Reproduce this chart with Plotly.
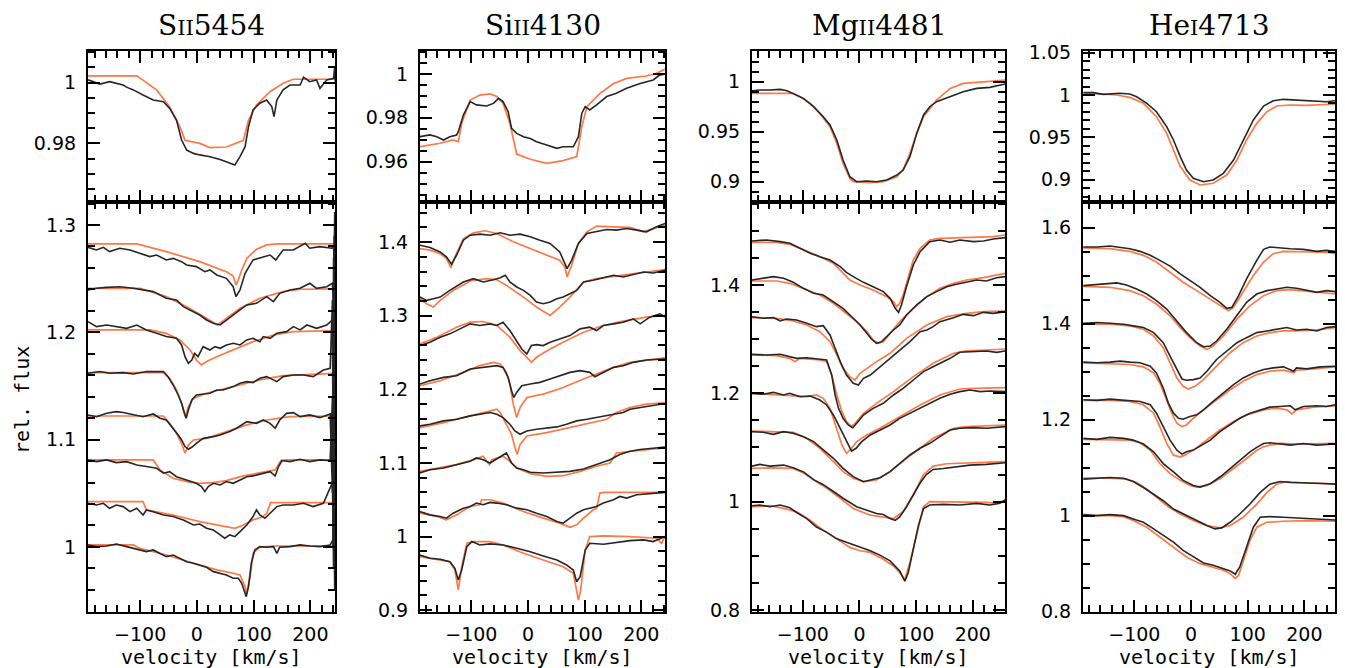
import plotly.graph_objects as go

# ---------------- data (velocity km/s, relative flux) ----------------
# Column 1: S II 5454
SII_TOP_MOD_V = [-192,-106,-71,-48,-30,-21,5,23,52,82,91,105,129,152,170,244]
SII_TOP_MOD_F = [1.0022,1.0022,0.9976,0.992,0.9855,0.981,0.980,0.9786,0.9788,0.981,0.9877,0.9926,0.997,0.9998,1.0011,1.0011]
SII_TOP_OBS_V = [-192,-171,-154,-130,-124,-112,-95,-77,-59,-48,-36,-27,-18,-6,5,23,41,58,67,76,85,91,99,111,123,132,136,141,152,164,182,188,199,211,217,229,241,243,244]
SII_TOP_OBS_F = [1.0009,0.9995,1.0003,0.9992,0.9985,0.9976,0.9959,0.9943,0.9937,0.9915,0.9877,0.9811,0.9778,0.9767,0.9762,0.9756,0.9747,0.9734,0.9729,0.9756,0.9789,0.9855,0.991,0.9932,0.9943,0.9921,0.9888,0.9943,0.9976,0.9992,0.9992,1.0018,1.0003,1.0009,0.9981,1.0009,1.0014,1.0053,1.0]

SII_BOT_MOD_V = [
    [-192,-106,-54,5,52,64,69,73,79,88,105,123,141,244],
    [-192,-100,-54,-18,17,36,52,76,111,152,182,244],
    [-192,-83,-54,-30,-12,-1,8,17,35,64,99,135,170,244],
    [-192,-59,-48,-36,-27,-20,-15,-6,17,64,111,152,211,244],
    [-192,-59,-48,-36,-27,-21,-15,-6,17,52,88,123,164,244],
    [-192,-77,-65,-42,-18,5,29,52,82,123,138,148,158,244],
    [-192,-95,-89,-42,5,52,67,82,99,117,123,130,244],
    [-192,-112,-101,-54,-6,35,64,76,85,87,94,99,111,135,244],
]
SII_BOT_MOD_F = [
    [1.2823,1.2823,1.2752,1.2658,1.2565,1.2525,1.2441,1.2488,1.2581,1.2689,1.2773,1.2814,1.2823,1.2823],
    [1.241,1.241,1.2332,1.2239,1.213,1.2068,1.213,1.2224,1.2317,1.2379,1.2401,1.2404],
    [1.2022,1.2022,1.199,1.1929,1.1835,1.1742,1.1696,1.1727,1.1773,1.1835,1.1913,1.1975,1.2006,1.2016],
    [1.1624,1.1624,1.1571,1.1463,1.1339,1.1214,1.1307,1.1385,1.1432,1.1494,1.1556,1.1596,1.1612,1.1618],
    [1.122,1.122,1.1152,1.1059,1.0966,1.0873,1.095,1.0997,1.1012,1.1075,1.1137,1.1183,1.1214,1.122],
    [1.0811,1.0811,1.0718,1.064,1.0609,1.0593,1.06,1.0618,1.0662,1.0702,1.0718,1.0805,1.0811,1.0811],
    [1.0422,1.0422,1.0345,1.0298,1.0236,1.019,1.0174,1.0205,1.0252,1.0283,1.0314,1.0413,1.0413],
    [1.0019,1.0019,0.9988,0.9925,0.9848,0.9786,0.9755,0.9739,0.963,0.9562,0.9724,0.9941,1.0,1.0009,1.0009],
]
SII_BOT_OBS_V = [
    [-192,-177,-165,-154,-136,-118,-101,-83,-71,-54,-42,-27,-18,-1,14,23,35,52,64,69,76,85,99,117,129,139,152,170,191,199,217,238,241,242,243,244],
    [-192,-177,-159,-136,-112,-95,-77,-54,-36,-24,-12,5,17,29,41,49,58,64,76,88,105,123,135,146,164,182,199,211,229,239,241,242,243,244],
    [-192,-177,-159,-142,-124,-106,-89,-71,-54,-36,-27,-21,-15,-9,-4,2,11,23,32,41,52,64,76,88,99,111,117,129,141,158,170,182,194,211,229,239,240,241,242,243,244],
    [-192,-171,-154,-130,-112,-89,-71,-59,-51,-42,-33,-27,-22,-19,-15,-9,-1,11,23,35,46,64,76,88,99,111,123,141,152,170,188,205,223,235,239,240,241,242,243,244],
    [-192,-177,-159,-142,-130,-112,-95,-77,-65,-54,-42,-33,-27,-21,-15,-9,-1,11,29,41,58,70,88,105,117,129,138,146,158,170,182,199,217,235,239,240,241,242,243,244],
    [-192,-177,-159,-142,-124,-106,-89,-71,-59,-48,-36,-18,-1,8,14,20,29,41,52,64,76,88,99,117,129,138,144,150,164,182,199,217,235,239,240,241,242,243,244],
    [-192,-177,-165,-154,-142,-130,-118,-106,-95,-89,-77,-59,-42,-24,-6,5,17,29,41,49,58,67,76,88,99,105,111,120,129,141,152,170,188,205,223,239,241,242,243,244],
    [-192,-177,-159,-142,-124,-112,-101,-89,-77,-65,-54,-42,-30,-18,-6,5,17,29,41,52,64,73,79,84,87,91,96,102,111,123,135,141,146,164,182,199,217,235,240,242,243,244],
]
SII_BOT_OBS_F = [
    [1.2792,1.2767,1.2792,1.2752,1.2783,1.2767,1.2736,1.2705,1.272,1.2674,1.2689,1.2658,1.2627,1.2612,1.2565,1.2581,1.2534,1.2503,1.2425,1.2332,1.2394,1.255,1.2674,1.2705,1.272,1.2674,1.2767,1.2767,1.2829,1.2783,1.2798,1.2783,1.2800,1.2650,1.3120,1.2700],
    [1.2394,1.241,1.2419,1.2425,1.241,1.2394,1.2379,1.2317,1.2301,1.2239,1.2208,1.2161,1.2115,1.2084,1.2068,1.2099,1.213,1.2161,1.2208,1.2255,1.227,1.2332,1.2286,1.2363,1.2394,1.241,1.2457,1.241,1.2425,1.2457,1.2200,1.2900,1.1900,1.2600],
    [1.2099,1.2053,1.2068,1.2053,1.2037,1.2068,1.2022,1.1991,1.196,1.1944,1.1882,1.1773,1.1711,1.1742,1.1804,1.1773,1.1866,1.1835,1.1866,1.1851,1.1882,1.1898,1.1882,1.1929,1.1944,1.1913,1.196,1.1944,1.1991,1.2006,1.2053,1.2022,1.2068,1.2037,1.2068,1.2115,1.1500,1.2700,1.1200,1.2500,1.1400],
    [1.1618,1.1634,1.1618,1.1624,1.1612,1.1634,1.1634,1.1634,1.1587,1.1509,1.1416,1.1339,1.1245,1.1199,1.1276,1.137,1.1416,1.1425,1.1432,1.1463,1.1463,1.1494,1.1525,1.154,1.1531,1.1571,1.1587,1.154,1.1587,1.1602,1.1602,1.1587,1.1649,1.1665,1.2300,1.0800,1.2100,1.0900,1.2000,1.1200],
    [1.123,1.1214,1.1245,1.1261,1.1252,1.123,1.1214,1.1239,1.1199,1.1183,1.1106,1.1043,1.0997,1.0935,1.091,1.0929,1.0966,1.1012,1.1028,1.1043,1.1075,1.1106,1.1168,1.1152,1.1183,1.1152,1.1106,1.1183,1.1245,1.1252,1.1214,1.123,1.1205,1.1239,1.0500,1.1800,1.0400,1.1600,1.0600,1.1300],
    [1.0811,1.0795,1.0811,1.0786,1.0795,1.0764,1.0749,1.0733,1.0687,1.0702,1.0655,1.0624,1.0593,1.0562,1.0516,1.0562,1.0593,1.0578,1.0609,1.0593,1.0624,1.0655,1.0662,1.0687,1.0702,1.0662,1.0749,1.0805,1.0795,1.0817,1.0795,1.0811,1.0805,1.1400,1.0000,1.1300,1.0100,1.1100,1.0400],
    [1.0407,1.0391,1.0407,1.036,1.0391,1.0376,1.0329,1.036,1.0298,1.0345,1.0329,1.0298,1.0283,1.0252,1.0205,1.0214,1.0174,1.0158,1.0112,1.0081,1.0112,1.0096,1.0143,1.0205,1.0283,1.0345,1.0298,1.0267,1.0314,1.0376,1.0391,1.0391,1.0407,1.0376,1.0407,1.0600,0.9800,1.0700,0.9900,1.0400],
    [1.0019,1.0003,1.0009,1.0028,1.0003,0.9988,0.9972,0.9957,0.9972,0.9941,0.991,0.9925,0.9894,0.9863,0.9848,0.9832,0.981,0.977,0.9755,0.9739,0.9708,0.9708,0.9661,0.9568,0.9537,0.963,0.9848,0.9972,1.0003,0.9997,1.0003,0.9941,0.9997,1.0003,1.0019,1.0009,1.0003,1.0019,1.0065,1.0200,0.9600,1.0100],
]

# Column 2: Si II 4130
SIII_TOP_MOD_V = [-191,-155,-132,-123,-117,-102,-85,-67,-55,-44,-32,-23,-20,4,33,62,83,86,95,104,127,151,174,209,227,242]
SIII_TOP_MOD_F = [0.9668,0.9684,0.9699,0.9691,0.9775,0.9881,0.9904,0.9909,0.9897,0.9866,0.9775,0.9668,0.9635,0.9611,0.9592,0.9605,0.9623,0.9623,0.976,0.9851,0.9912,0.9957,0.998,0.9991,1.0003,1.0023]
SIII_TOP_OBS_V = [-191,-173,-161,-149,-138,-126,-123,-114,-102,-91,-73,-61,-52,-44,-35,-29,-20,-8,4,15,33,51,62,80,89,95,101,109,121,139,156,174,198,221,232,242]
SIII_TOP_OBS_F = [0.9714,0.9722,0.9714,0.9699,0.9714,0.9722,0.9737,0.9813,0.9874,0.9859,0.9854,0.9866,0.9889,0.9874,0.9828,0.9752,0.9729,0.9714,0.9706,0.9691,0.9676,0.9661,0.9668,0.9668,0.9714,0.9821,0.9851,0.9836,0.9859,0.9897,0.9912,0.9935,0.9957,0.9973,0.9995,1.0]

SIII_BOT_MOD_V = [
    [-191,-173,-155,-144,-136,-129,-114,-96,-76,-55,-26,4,33,56,65,69,77,89,104,121,151,180,204,221,242],
    [-191,-179,-167,-155,-132,-102,-73,-55,-38,-8,15,39,56,74,98,121,151,180,209,242],
    [-191,-161,-126,-102,-79,-55,-32,-14,-2,6,15,39,62,98,133,168,209,242],
    [-191,-155,-114,-85,-61,-49,-38,-32,-26,-20,-14,-2,27,62,98,121,151,180,209,242],
    [-191,-149,-114,-79,-55,-49,-38,-29,-23,-19,-14,-2,33,74,109,139,156,180,209,242],
    [-191,-161,-126,-96,-79,-73,-68,-64,-44,-32,-20,4,33,62,92,121,145,156,180,209,242],
    [-191,-161,-144,-126,-102,-85,-82,-67,-44,-8,27,56,74,86,98,115,121,127,133,242],
    [-191,-155,-138,-129,-123,-117,-108,-96,-67,-44,-8,27,62,80,86,89,93,101,109,133,180,227,236,242],
]
SIII_BOT_MOD_F = [
    [1.3914,1.3891,1.3845,1.3777,1.3654,1.38,1.405,1.4127,1.4155,1.4118,1.4005,1.3914,1.3823,1.3754,1.3663,1.3527,1.3686,1.3982,1.4141,1.4218,1.4209,1.42,1.4141,1.4186,1.4232],
    [1.3231,1.3163,1.3118,1.3209,1.3345,1.3473,1.3504,1.349,1.3413,1.3254,1.3118,1.3004,1.3118,1.3254,1.3459,1.3504,1.3536,1.3563,1.3595,1.3627],
    [1.2618,1.2709,1.2845,1.2913,1.2922,1.2868,1.2709,1.2527,1.2436,1.2367,1.2436,1.2549,1.264,1.2777,1.2868,1.2927,1.2981,1.3004],
    [1.2049,1.2117,1.2231,1.2322,1.2367,1.2345,1.2231,1.2072,1.1799,1.1617,1.1753,1.189,1.1935,1.2026,1.214,1.2208,1.2299,1.2367,1.2399,1.2427],
    [1.1481,1.1549,1.1617,1.1685,1.1731,1.1685,1.1526,1.139,1.1208,1.1117,1.1253,1.1367,1.1412,1.1481,1.1549,1.1594,1.1685,1.1753,1.1799,1.1822],
    [1.0886,1.0932,1.0977,1.1045,1.1091,1.1023,1.0977,1.1045,1.1091,1.1023,1.0932,1.0855,1.0818,1.0827,1.0886,1.0955,1.1,1.1136,1.1159,1.1182,1.1205],
    [1.0318,1.0273,1.0227,1.0295,1.0409,1.0432,1.05,1.05,1.0455,1.0341,1.025,1.0182,1.0127,1.0159,1.025,1.0364,1.0386,1.0591,1.06,1.06],
    [0.9727,0.9682,0.9659,0.9545,0.9273,0.9591,0.9909,0.9932,0.9932,0.9886,0.9773,0.9682,0.9591,0.95,0.9273,0.9136,0.9273,0.9818,1.0,1.0009,1.0,0.9977,0.9909,1.0009],
]
SIII_BOT_OBS_V = [
    [-191,-173,-155,-144,-135,-126,-114,-102,-85,-67,-49,-32,-14,4,21,39,56,65,69,77,89,104,121,139,156,174,192,209,227,242],
    [-191,-179,-167,-155,-138,-114,-96,-79,-61,-49,-40,-32,-20,-8,4,15,27,39,51,62,74,86,98,115,133,151,168,186,204,221,242],
    [-191,-173,-155,-138,-120,-102,-85,-67,-55,-44,-32,-20,-11,-2,6,15,27,39,56,74,92,109,121,133,151,168,186,198,215,233,242],
    [-191,-173,-149,-126,-102,-79,-55,-44,-35,-29,-25,-20,-11,4,21,39,56,74,92,109,118,133,151,168,186,209,242],
    [-191,-173,-149,-126,-102,-85,-67,-55,-44,-32,-23,-14,-2,15,33,51,68,86,104,121,139,156,168,180,198,215,233,242],
    [-191,-173,-149,-126,-102,-91,-79,-67,-55,-44,-38,-29,-20,-8,4,27,51,74,98,121,145,162,180,198,215,242],
    [-191,-173,-155,-144,-132,-114,-102,-91,-79,-67,-55,-38,-20,-2,15,33,51,62,74,86,98,109,121,133,151,162,174,192,209,227,242],
    [-191,-173,-155,-138,-129,-123,-117,-108,-99,-85,-67,-44,-20,4,27,51,68,80,86,92,101,109,133,156,180,204,221,239],
]
SIII_BOT_OBS_F = [
    [1.3959,1.3927,1.3868,1.38,1.37,1.3823,1.4027,1.4095,1.4109,1.4095,1.4127,1.4095,1.4109,1.4073,1.4027,1.3982,1.3868,1.3709,1.3641,1.3754,1.3982,1.4118,1.4141,1.4173,1.4164,1.4186,1.4164,1.4141,1.4209,1.4255],
    [1.3254,1.3209,1.3231,1.3254,1.3345,1.3459,1.3504,1.3459,1.349,1.3518,1.355,1.3459,1.3391,1.3345,1.3277,1.3186,1.3163,1.3186,1.3231,1.3254,1.33,1.3345,1.3459,1.3482,1.3518,1.355,1.3527,1.3563,1.3595,1.3582,1.3618],
    [1.2595,1.264,1.2709,1.2754,1.2822,1.289,1.2868,1.289,1.2868,1.2913,1.2799,1.2663,1.2549,1.2481,1.2595,1.2608,1.2595,1.264,1.2686,1.2731,1.2822,1.2845,1.2799,1.2868,1.289,1.2913,1.2959,1.289,1.2981,1.3027,1.2981],
    [1.2072,1.2117,1.2163,1.2186,1.2277,1.2299,1.2322,1.2299,1.2163,1.1981,1.189,1.1958,1.2049,1.2072,1.2095,1.214,1.2186,1.2231,1.2254,1.2231,1.2172,1.2231,1.2299,1.2322,1.2367,1.2399,1.2413],
    [1.1503,1.1526,1.1572,1.1594,1.164,1.1663,1.1685,1.1663,1.1617,1.1526,1.1435,1.139,1.1435,1.1458,1.1472,1.149,1.1526,1.1572,1.1594,1.1617,1.164,1.1663,1.1685,1.1731,1.1753,1.1776,1.1799,1.1808],
    [1.0864,1.0909,1.0932,1.0977,1.1023,1.1068,1.1045,1.1,1.1055,1.1114,1.1136,1.1,1.0932,1.0909,1.0873,1.0864,1.0873,1.0886,1.0918,1.0977,1.1045,1.1114,1.1159,1.1182,1.1195,1.1218],
    [1.0341,1.0295,1.0273,1.025,1.0318,1.0386,1.0409,1.0455,1.0432,1.0464,1.0455,1.0432,1.0386,1.0364,1.0318,1.0273,1.0205,1.0182,1.025,1.0318,1.0364,1.0386,1.0409,1.0455,1.05,1.0545,1.0523,1.0568,1.0582,1.0591,1.06],
    [0.975,0.9705,0.9691,0.9659,0.9568,0.9409,0.9545,0.9864,0.9932,0.9886,0.99,0.9886,0.9841,0.9795,0.9736,0.9682,0.9614,0.9545,0.9386,0.9455,0.9818,0.9909,0.9895,0.9918,0.9945,0.9955,0.9932,0.9991],
]

# Column 3: Mg II 4481
MGII_TOP_MOD_V = [-190,-117,-105,-87,-70,-52,-40,-29,-17,-11,19,42,66,77,89,101,113,136,160,183,224,257]
MGII_TOP_MOD_F = [0.9883,0.9883,0.985,0.9783,0.9683,0.955,0.9383,0.9183,0.9033,0.9,0.899,0.9,0.905,0.9117,0.9283,0.9483,0.965,0.9817,0.9933,0.9983,1.0,1.0017]
MGII_TOP_OBS_V = [-190,-176,-158,-140,-128,-111,-99,-81,-64,-52,-40,-29,-17,-5,13,30,48,66,77,89,101,113,124,136,160,183,207,230,257]
MGII_TOP_OBS_F = [0.991,0.9917,0.9917,0.9923,0.991,0.9867,0.9833,0.975,0.965,0.9567,0.9417,0.9217,0.905,0.9,0.9007,0.9,0.9017,0.9067,0.9117,0.925,0.9483,0.9667,0.975,0.98,0.985,0.99,0.9933,0.9943,0.9977]

MGII_BOT_MOD_V = [
    [-190,-146,-123,-105,-76,-46,-29,-17,1,24,48,60,66,71,77,86,95,107,124,142,189,236,257],
    [-190,-146,-123,-93,-70,-46,-23,-5,13,24,33,42,54,71,95,119,142,166,189,219,257],
    [-190,-146,-117,-93,-70,-52,-40,-29,-17,-8,1,13,30,54,83,119,154,189,219,257],
    [-190,-146,-123,-114,-105,-93,-70,-58,-49,-40,-31,-23,-14,-5,7,30,60,95,130,166,189,224,257],
    [-190,-146,-117,-93,-76,-64,-52,-40,-31,-23,-14,-5,13,36,71,107,142,177,201,257],
    [-190,-146,-117,-93,-70,-46,-29,-11,7,30,54,83,107,130,148,166,189,224,257],
    [-190,-158,-117,-99,-81,-58,-34,-11,19,42,60,77,95,113,130,154,195,257],
    [-190,-158,-134,-111,-87,-64,-40,-17,1,19,42,60,71,80,89,101,113,124,166,224,242,257],
]
MGII_BOT_MOD_F = [
    [1.4788,1.4788,1.4751,1.4677,1.4554,1.44,1.4215,1.4092,1.4,1.3908,1.3785,1.3692,1.36,1.3662,1.3815,1.4123,1.4462,1.4677,1.4831,1.4862,1.4874,1.4892,1.4923],
    [1.4074,1.4074,1.4031,1.3908,1.3815,1.3662,1.3477,1.3323,1.3138,1.2985,1.2923,1.2954,1.3108,1.3323,1.3569,1.3785,1.3938,1.4031,1.4092,1.4135,1.4215],
    [1.3397,1.3385,1.3335,1.3262,1.3138,1.2954,1.2708,1.2462,1.2308,1.2246,1.2369,1.2462,1.2585,1.2738,1.3015,1.3262,1.3415,1.3477,1.3508,1.352],
    [1.2708,1.2695,1.2646,1.2585,1.2646,1.2634,1.2615,1.2585,1.2338,1.1969,1.1662,1.1477,1.1385,1.1477,1.1631,1.1815,1.2031,1.2308,1.2554,1.2738,1.2782,1.28,1.2818],
    [1.2,1.1969,1.1957,1.1938,1.1969,1.1908,1.1723,1.1354,1.1046,1.0892,1.0985,1.1108,1.1231,1.1354,1.1569,1.1785,1.1969,1.208,1.2092,1.2105],
    [1.1305,1.1292,1.128,1.1169,1.0985,1.0738,1.0554,1.0431,1.0369,1.04,1.0554,1.08,1.0985,1.1169,1.1262,1.1354,1.1385,1.1403,1.1415],
    [1.0613,1.0625,1.0613,1.0531,1.0406,1.025,1.0063,0.9875,0.975,0.9719,0.9688,0.9813,1.0125,1.05,1.0656,1.07,1.0719,1.0738],
    [0.9906,0.9925,0.9875,0.9813,0.9656,0.9469,0.9313,0.9156,0.9094,0.9063,0.8938,0.8813,0.8688,0.8563,0.8875,0.9375,0.9906,1.0,1.0,0.9988,0.9969,1.0031],
]
MGII_BOT_OBS_V = [
    [-190,-164,-140,-123,-105,-87,-70,-52,-34,-23,-11,7,24,42,54,63,69,74,83,95,107,124,142,160,177,201,219,236,257],
    [-190,-170,-152,-134,-117,-99,-81,-64,-46,-29,-11,1,13,21,30,39,48,60,71,83,101,119,136,154,171,189,207,224,242,257],
    [-190,-170,-152,-140,-129,-111,-93,-76,-64,-52,-43,-34,-23,-11,-2,7,19,36,54,71,89,107,119,130,142,166,183,201,219,236,257],
    [-190,-164,-140,-123,-111,-93,-76,-58,-49,-43,-37,-29,-20,-12,-5,7,24,42,60,77,95,113,130,142,160,177,201,224,242,257],
    [-190,-170,-152,-134,-123,-105,-87,-70,-58,-46,-34,-23,-14,-6,4,19,36,54,71,89,107,124,142,160,177,195,213,230,257],
    [-190,-170,-152,-134,-117,-99,-81,-64,-46,-29,-11,7,19,36,54,71,89,107,124,142,160,177,201,224,257],
    [-190,-176,-158,-134,-117,-99,-81,-64,-46,-29,-5,13,30,42,54,63,71,83,95,107,118,130,148,172,195,224,257],
    [-190,-176,-158,-140,-123,-111,-93,-76,-58,-40,-23,-5,4,19,36,54,71,80,86,95,104,113,124,148,177,207,230,248,257],
]
MGII_BOT_OBS_F = [
    [1.4812,1.4831,1.48,1.4769,1.4677,1.4585,1.4523,1.4462,1.4338,1.4234,1.4154,1.4049,1.3969,1.3877,1.3754,1.3569,1.3495,1.3631,1.3969,1.4369,1.4615,1.48,1.4831,1.4788,1.4831,1.48,1.4812,1.4849,1.4874],
    [1.4092,1.4123,1.4154,1.4123,1.4049,1.3938,1.3846,1.3815,1.3692,1.3569,1.3385,1.3262,1.3108,1.3003,1.2923,1.2954,1.3046,1.3169,1.3262,1.3446,1.3631,1.3785,1.3877,1.3969,1.4012,1.4049,1.4092,1.4074,1.4135,1.4154],
    [1.3415,1.3385,1.3397,1.3335,1.3372,1.3354,1.3292,1.3231,1.3249,1.3077,1.2831,1.2585,1.2338,1.2185,1.2154,1.2277,1.2338,1.2492,1.2646,1.28,1.2954,1.3138,1.3169,1.3231,1.3323,1.3397,1.3458,1.3434,1.3495,1.3477,1.3508],
    [1.272,1.2708,1.272,1.2677,1.2646,1.2658,1.2634,1.2615,1.2338,1.1969,1.1723,1.1538,1.1415,1.1366,1.1446,1.16,1.1723,1.1815,1.1969,1.2092,1.2246,1.24,1.2492,1.2554,1.2646,1.2757,1.2769,1.2782,1.2757,1.2782],
    [1.2,1.1982,1.2018,1.1969,1.2,1.1938,1.1951,1.1877,1.1785,1.16,1.1354,1.1108,1.0935,1.0985,1.1108,1.1231,1.1323,1.1415,1.1538,1.1631,1.1723,1.1815,1.1908,1.1982,1.2031,1.2062,1.2031,1.2043,1.2031],
    [1.1292,1.128,1.1243,1.1292,1.1262,1.12,1.1108,1.0954,1.08,1.0615,1.0462,1.0369,1.04,1.0443,1.0554,1.0708,1.0862,1.0985,1.1077,1.12,1.1323,1.1354,1.1366,1.1354,1.1385],
    [1.0656,1.0688,1.0656,1.0675,1.0625,1.055,1.0406,1.0313,1.0188,1.0063,0.9906,0.9844,0.9781,0.9763,0.9688,0.9656,0.9719,0.9906,1.0125,1.0344,1.05,1.0594,1.0613,1.0638,1.0675,1.0688,1.0719],
    [0.9925,0.9938,0.9906,0.9938,0.9888,0.98,0.9688,0.9531,0.9438,0.9313,0.925,0.9188,0.9156,0.9094,0.9013,0.8906,0.8719,0.8531,0.8688,0.9125,0.9563,0.9875,0.9938,0.995,0.9938,0.9969,0.9938,0.9969,1.0031],
]

# Column 4: He I 4713
HEI_TOP_MOD_V = [-190,-161,-131,-108,-84,-61,-43,-31,-19,-2,16,39,63,81,98,116,134,151,175,204,228,254]
HEI_TOP_MOD_F = [1.0012,1.0012,1.0,0.9972,0.9902,0.9744,0.9547,0.935,0.9154,0.8996,0.8937,0.8957,0.9055,0.9232,0.9469,0.9665,0.9803,0.987,0.9882,0.9878,0.9886,0.9894]
HEI_TOP_OBS_V = [-190,-172,-155,-143,-125,-108,-96,-78,-61,-43,-31,-19,-8,4,22,39,57,75,92,110,128,145,163,181,198,222,239,254]
HEI_TOP_OBS_F = [1.0028,1.0028,1.0008,1.0012,1.002,1.0012,0.998,0.9902,0.9803,0.9626,0.9469,0.9272,0.9114,0.9016,0.8976,0.8996,0.9075,0.9232,0.9469,0.9705,0.987,0.9933,0.9949,0.9941,0.9933,0.9921,0.9921,0.9933]

HEI_BOT_MOD_V = [
    [-190,-143,-108,-84,-61,-37,-14,10,34,51,66,75,92,110,128,145,163,186,216,245,254],
    [-190,-143,-108,-84,-61,-37,-19,-2,16,28,39,57,81,104,128,151,175,198,228,254],
    [-190,-143,-108,-84,-66,-49,-37,-25,-14,-5,7,22,45,69,92,116,139,163,186,222,254],
    [-190,-143,-108,-84,-66,-55,-43,-34,-25,-16,-8,4,22,45,69,92,116,139,163,181,186,216,254],
    [-190,-143,-108,-84,-66,-55,-43,-31,-19,-11,4,28,51,75,98,128,151,169,178,186,216,254],
    [-190,-143,-108,-90,-72,-55,-37,-19,-2,10,28,51,75,98,116,128,139,157,186,222,254],
    [-190,-143,-114,-96,-78,-61,-43,-19,4,28,51,69,92,116,134,151,169,192,222,254],
    [-190,-143,-119,-102,-78,-55,-31,-8,16,39,57,69,78,84,92,104,116,134,163,204,254],
]
HEI_BOT_MOD_F = [
    [1.5573,1.5559,1.5503,1.542,1.528,1.507,1.486,1.4685,1.451,1.437,1.4266,1.4336,1.465,1.5,1.528,1.5455,1.5503,1.5503,1.549,1.5476,1.5455],
    [1.4776,1.4755,1.4685,1.458,1.4406,1.4161,1.3916,1.3706,1.3531,1.3462,1.3531,1.3741,1.4091,1.437,1.458,1.4685,1.4706,1.4685,1.465,1.4615],
    [1.3986,1.3986,1.3951,1.3881,1.3741,1.3497,1.3182,1.2867,1.2692,1.2636,1.2692,1.2832,1.3112,1.3392,1.3601,1.3741,1.3811,1.3846,1.3846,1.3867,1.3916],
    [1.3182,1.3168,1.3147,1.3098,1.2972,1.2762,1.2413,1.2133,1.1923,1.1853,1.1888,1.2028,1.2203,1.2413,1.2622,1.2797,1.2937,1.3007,1.3028,1.2972,1.3028,1.3056,1.3098],
    [1.2399,1.2399,1.2378,1.2308,1.2133,1.1853,1.1503,1.1259,1.1224,1.1259,1.1364,1.1573,1.1783,1.1958,1.2098,1.2203,1.2238,1.2203,1.2119,1.2203,1.2259,1.2287],
    [1.1587,1.1587,1.1573,1.1517,1.1364,1.1084,1.0874,1.0734,1.0629,1.0594,1.0629,1.0769,1.098,1.1189,1.1364,1.1434,1.1469,1.1503,1.149,1.149,1.1503],
    [1.0779,1.0779,1.0759,1.069,1.0552,1.0379,1.0207,1.0034,0.9897,0.9793,0.9745,0.9793,0.9966,1.0241,1.0483,1.0655,1.071,1.069,1.0669,1.0655],
    [1.0,1.0,0.9979,0.9897,0.9759,0.9552,0.9345,0.9138,0.9,0.8917,0.8862,0.8793,0.869,0.8759,0.9069,0.9483,0.9759,0.9862,0.9883,0.9897,0.9883],
]
HEI_BOT_OBS_V = [
    [-190,-166,-143,-125,-108,-90,-72,-55,-37,-19,-2,16,34,51,63,72,84,98,116,128,139,157,175,198,222,239,254],
    [-190,-172,-155,-131,-114,-96,-78,-61,-43,-25,-8,10,22,34,45,63,81,98,116,134,151,169,186,204,222,239,254],
    [-190,-166,-143,-119,-102,-84,-66,-49,-37,-25,-16,-8,4,16,28,45,63,81,98,116,134,151,169,186,204,222,239,254],
    [-190,-166,-143,-125,-108,-90,-72,-61,-49,-40,-31,-22,-14,-2,10,22,39,57,75,92,110,128,145,163,181,186,204,228,254],
    [-190,-166,-143,-125,-108,-90,-72,-61,-49,-37,-25,-16,-8,4,16,34,51,69,86,104,122,139,157,175,184,198,222,239,254],
    [-190,-166,-143,-119,-102,-84,-66,-49,-31,-14,4,16,34,51,69,86,104,116,128,139,157,175,198,222,254],
    [-190,-166,-143,-119,-102,-84,-66,-49,-31,-8,10,28,42,54,69,86,104,122,139,157,175,192,210,234,254],
    [-190,-166,-143,-119,-102,-84,-66,-49,-31,-14,4,22,39,57,69,78,86,98,110,122,139,163,192,222,254],
]
HEI_BOT_OBS_F = [
    [1.5594,1.5594,1.5615,1.5594,1.5559,1.5503,1.542,1.5315,1.5196,1.5035,1.4895,1.4755,1.458,1.444,1.4315,1.4336,1.458,1.493,1.5315,1.5545,1.5594,1.5573,1.5559,1.5545,1.5503,1.5524,1.5503],
    [1.479,1.4804,1.4825,1.4846,1.4804,1.472,1.4615,1.4476,1.4301,1.4056,1.3811,1.3601,1.3517,1.3531,1.3636,1.3881,1.4161,1.4441,1.4615,1.4685,1.472,1.4755,1.4734,1.4685,1.465,1.4685,1.4664],
    [1.4007,1.4021,1.4007,1.3986,1.3951,1.3916,1.3811,1.3601,1.3322,1.3042,1.2846,1.2818,1.2832,1.2867,1.3007,1.3252,1.3427,1.3601,1.3706,1.3811,1.3846,1.3881,1.3916,1.3867,1.3881,1.3846,1.3916,1.3937],
    [1.3196,1.3182,1.3196,1.3217,1.3196,1.3182,1.3112,1.2972,1.2657,1.2343,1.2133,1.2028,1.2007,1.2063,1.2098,1.2203,1.2378,1.2552,1.2727,1.2867,1.2972,1.3042,1.3077,1.3098,1.3007,1.3077,1.3056,1.3098,1.3112],
    [1.2413,1.2399,1.2427,1.2413,1.2399,1.2378,1.2308,1.2133,1.1853,1.1573,1.1364,1.128,1.1329,1.1364,1.1448,1.1573,1.1748,1.1888,1.2028,1.2133,1.2203,1.2259,1.2273,1.2287,1.2203,1.2273,1.2287,1.2273,1.2308],
    [1.1608,1.1587,1.1629,1.1608,1.1573,1.149,1.1329,1.1084,1.0909,1.0734,1.0629,1.0594,1.0664,1.0804,1.0979,1.1154,1.1329,1.142,1.1503,1.1517,1.149,1.1469,1.1503,1.1469,1.149],
    [1.0759,1.0779,1.0793,1.0779,1.071,1.0586,1.0448,1.031,1.0138,1.0,0.9897,0.9793,0.9724,0.9745,0.9862,1.0034,1.0241,1.0483,1.0655,1.071,1.069,1.0683,1.069,1.0669,1.0655],
    [1.0021,1.0,1.0021,1.0,0.9931,0.9862,0.9724,0.9586,0.9448,0.9276,0.9138,0.9014,0.8966,0.8897,0.8848,0.8779,0.8931,0.9345,0.9759,0.9966,0.9979,0.9966,0.9952,0.9931,0.991],
]

TITLES = ["S<span style='font-size:21px'>II</span>5454",
          "Si<span style='font-size:21px'>II</span>4130",
          "Mg<span style='font-size:21px'>II</span>4481",
          "He<span style='font-size:21px'>I</span>4713"]
X_TICKS = [-100, 0, 100, 200]

# ---------------- figure ----------------
BLACK = "#262626"
ORANGE = "#ff7846"
W, H = 1345, 668

cols = [
    dict(top=(SII_TOP_MOD_V, SII_TOP_MOD_F, SII_TOP_OBS_V, SII_TOP_OBS_F),
         bot=(SII_BOT_MOD_V, SII_BOT_MOD_F, SII_BOT_OBS_V, SII_BOT_OBS_F),
         px=(88, 335), xr=[-192, 243.5],
         ytop=dict(range=[0.9607, 1.0104], dtick=0.02, minor=0.005),
         ybot=dict(range=[0.9394, 1.3214], dtick=0.1, minor=0.02)),
    dict(top=(SIII_TOP_MOD_V, SIII_TOP_MOD_F, SIII_TOP_OBS_V, SIII_TOP_OBS_F),
         bot=(SIII_BOT_MOD_V, SIII_BOT_MOD_F, SIII_BOT_OBS_V, SIII_BOT_OBS_F),
         px=(420, 665), xr=[-190.6, 241.8],
         ytop=dict(range=[0.9416, 1.0105], dtick=0.02, minor=0.005),
         ybot=dict(range=[0.8975, 1.4546], dtick=0.1, minor=0.02)),
    dict(top=(MGII_TOP_MOD_V, MGII_TOP_MOD_F, MGII_TOP_OBS_V, MGII_TOP_OBS_F),
         bot=(MGII_BOT_MOD_V, MGII_BOT_MOD_F, MGII_BOT_OBS_V, MGII_BOT_OBS_F),
         px=(752, 1005), xr=[-189.7, 256.8],
         ytop=dict(range=[0.8797, 1.0307], dtick=0.05, minor=0.01),
         ybot=dict(range=[0.7963, 1.5532], dtick=0.2, minor=0.05)),
    dict(top=(HEI_TOP_MOD_V, HEI_TOP_MOD_F, HEI_TOP_OBS_V, HEI_TOP_OBS_F),
         bot=(HEI_BOT_MOD_V, HEI_BOT_MOD_F, HEI_BOT_OBS_V, HEI_BOT_OBS_F),
         px=(1083, 1335), xr=[-190.6, 254],
         ytop=dict(range=[0.8736, 1.052], dtick=0.05, minor=0.01),
         ybot=dict(range=[0.7993, 1.6531], dtick=0.2, minor=0.05)),
]

TOP_PX = (51, 202)
BOT_PX = (202, 612)

def ydom(p):
    return [1 - p[1] / H, 1 - p[0] / H]

fig = go.Figure()
layout = dict(width=W, height=H, margin=dict(l=0, r=0, t=0, b=0, pad=0),
              paper_bgcolor="white", plot_bgcolor="white", showlegend=False)

TICKFONT = dict(family="DejaVu Sans, sans-serif", size=19, color="black")

def base_axis():
    return dict(showline=True, linecolor="black", linewidth=2.2, mirror="ticks",
                ticks="inside", ticklen=12, tickwidth=1.8, tickcolor="black",
                showgrid=False, zeroline=False, tickfont=TICKFONT, automargin=False,
                minor=dict(ticks="inside", ticklen=7, tickwidth=1.5, tickcolor="black", showgrid=False))

annotations = []
for c, col in enumerate(cols):
    xd = [col["px"][0] / W, col["px"][1] / W]
    for part, (idx, ypx, yconf) in enumerate([(2 * c + 1, TOP_PX, col["ytop"]), (2 * c + 2, BOT_PX, col["ybot"])]):
        xname = "xaxis" if idx == 1 else f"xaxis{idx}"
        yname = "yaxis" if idx == 1 else f"yaxis{idx}"
        xref = "x" if idx == 1 else f"x{idx}"
        yref = "y" if idx == 1 else f"y{idx}"
        xa = base_axis()
        xa.update(domain=xd, range=col["xr"], anchor=yref, tickmode="array", tickvals=X_TICKS,
                  showticklabels=(part == 1), ticklabelstandoff=4)
        xa["minor"].update(dtick=20, tick0=0)
        ya = base_axis()
        ya.update(domain=ydom(ypx), range=yconf["range"], anchor=xref, dtick=yconf["dtick"], tick0=0,
                  ticklabelstandoff=6)
        ya["minor"].update(dtick=yconf["minor"], tick0=0)
        layout[xname] = xa
        layout[yname] = ya
        if part == 0:
            mv, mf, ov, of = col["top"]
            fig.add_trace(go.Scatter(x=mv, y=mf, mode="lines", line=dict(color=ORANGE, width=1.7),
                                     xaxis=xref, yaxis=yref, hoverinfo="skip"))
            fig.add_trace(go.Scatter(x=ov, y=of, mode="lines", line=dict(color=BLACK, width=1.6),
                                     xaxis=xref, yaxis=yref, hoverinfo="skip"))
        else:
            mvs, mfs, ovs, ofs = col["bot"]
            for mv, mf in zip(mvs, mfs):
                fig.add_trace(go.Scatter(x=mv, y=mf, mode="lines", line=dict(color=ORANGE, width=1.7),
                                         xaxis=xref, yaxis=yref, hoverinfo="skip"))
            for ov, of in zip(ovs, ofs):
                fig.add_trace(go.Scatter(x=ov, y=of, mode="lines", line=dict(color=BLACK, width=1.6),
                                         xaxis=xref, yaxis=yref, hoverinfo="skip"))
            annotations.append(dict(text="velocity [km/s]", xref="paper", yref="paper",
                                    x=(xd[0] + xd[1]) / 2, y=1 - 657 / H, xanchor="center", yanchor="middle",
                                    showarrow=False,
                                    font=dict(family="DejaVu Sans Mono, monospace", size=20, color="black")))
    annotations.append(dict(text=TITLES[c], xref="paper", yref="paper",
                            x=(xd[0] + xd[1]) / 2, y=1 - 25 / H, xanchor="center", yanchor="middle",
                            showarrow=False,
                            font=dict(family="DejaVu Serif, serif", size=28, color="black")))

annotations.append(dict(text="rel. flux", xref="paper", yref="paper", x=22 / W, y=1 - 400 / H,
                        xanchor="center", yanchor="middle", textangle=-90, showarrow=False,
                        font=dict(family="DejaVu Sans Mono, monospace", size=20, color="black")))
layout["annotations"] = annotations
fig.update_layout(**layout)
fig.write_html("out.html",
               post_script="document.body.style.margin='0px';document.body.style.padding='0px';")
